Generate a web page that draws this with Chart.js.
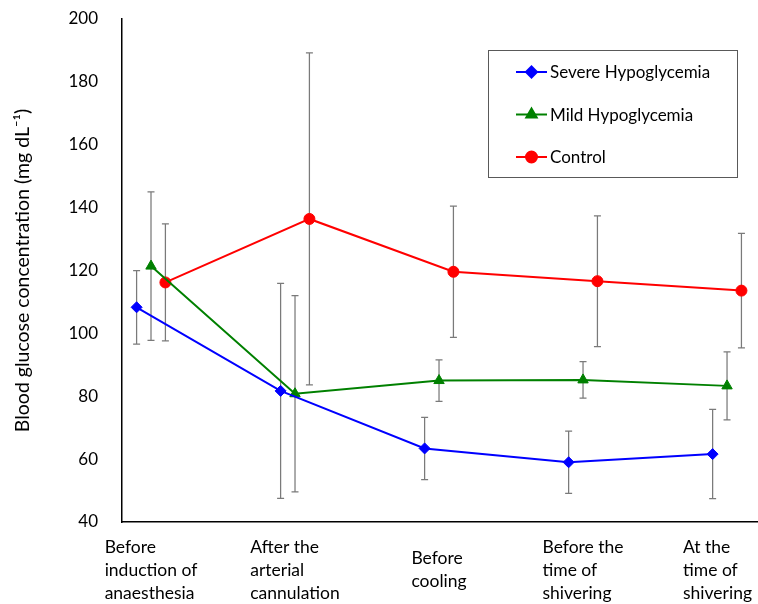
<!DOCTYPE html>
<html>
<head>
<meta charset="utf-8">
<script src="https://cdn.jsdelivr.net/npm/chart.js@4.4.1/dist/chart.umd.min.js"></script>
<style>
  html, body { margin: 0; padding: 0; background: #fff; }
  #wrap { width: 758px; height: 604px; }
</style>
</head>
<body>
<div id="wrap"><canvas id="chart" width="758" height="604"></canvas></div>
<script>
// categories (multi-line x labels)
const categories = [
  ['Before', 'induction of', 'anaesthesia'],
  ['After the', 'arterial', 'cannulation'],
  ['Before', 'cooling'],
  ['Before the', 'time of', 'shivering'],
  ['At the', 'time of', 'shivering']
];

// means and SDs (mg/dL)
const severeMean  = [108.3, 81.7, 63.4, 59.0, 61.6];
const severeSD    = [11.7, 34.2, 9.9, 9.9, 14.2];
const mildMean    = [121.4, 80.8, 85.0, 85.2, 83.3];
const mildSD      = [23.6, 31.2, 6.6, 5.8, 10.8];
const controlMean = [116.2, 136.4, 119.6, 116.6, 113.6];
const controlSD   = [18.6, 52.8, 20.9, 20.8, 18.2];

const yMin = 40, yMax = 200, yStep = 20;

const FONT = 'Lato, "Open Sans", sans-serif';

function series(label, means, sds, color, style, radius, shift) {
  return {
    label: label,
    data: means.map((m, i) => ({ x: i + shift, y: m, sd: sds[i] })),
    borderColor: color,
    backgroundColor: color,
    borderWidth: 2,
    pointStyle: style,
    pointRadius: radius,
    pointHoverRadius: radius,
    pointBorderWidth: 1,
    tension: 0
  };
}

// vertical error bars with caps
const errorBars = {
  id: 'errorBars',
  beforeDatasetsDraw(chart) {
    const ctx = chart.ctx, y = chart.scales.y;
    ctx.save();
    ctx.strokeStyle = '#7a7a7a';
    ctx.lineWidth = 1.25;
    chart.data.datasets.forEach((ds, di) => {
      const meta = chart.getDatasetMeta(di);
      ds.data.forEach((d, j) => {
        const px = meta.data[j].x;
        const top = y.getPixelForValue(d.y + d.sd);
        const bot = y.getPixelForValue(d.y - d.sd);
        ctx.beginPath();
        ctx.moveTo(px, top); ctx.lineTo(px, bot);
        ctx.moveTo(px - 3.5, top); ctx.lineTo(px + 3.5, top);
        ctx.moveTo(px - 3.5, bot); ctx.lineTo(px + 3.5, bot);
        ctx.stroke();
      });
    });
    ctx.restore();
  }
};

// left-aligned multi-line category labels, as in the original
const catLabels = {
  id: 'catLabels',
  afterDraw(chart) {
    const ctx = chart.ctx, x = chart.scales.x, area = chart.chartArea;
    ctx.save();
    ctx.font = '17.5px ' + FONT;
    ctx.fillStyle = '#000';
    ctx.textAlign = 'left';
    ctx.textBaseline = 'middle';
    const lh = 23, midY = area.bottom + 48;
    categories.forEach((lines, i) => {
      const w = Math.max(...lines.map(l => ctx.measureText(l).width));
      let left = x.getPixelForValue(i) - w / 2;
      left = Math.min(left, chart.width - 6 - w);
      const y0 = midY - (lines.length - 1) * lh / 2;
      lines.forEach((l, k) => ctx.fillText(l, left, y0 + k * lh));
    });
    ctx.restore();
  }
};

// boxed legend inside the plot
const boxLegend = {
  id: 'boxLegend',
  afterDraw(chart) {
    const ctx = chart.ctx;
    const bx = 488, by = 50, bw = 249, bh = 127;
    ctx.save();
    ctx.strokeStyle = '#595959';
    ctx.lineWidth = 1;
    ctx.strokeRect(bx + 0.5, by + 0.5, bw, bh);
    ctx.font = '17px ' + FONT;
    ctx.textBaseline = 'middle';
    ctx.textAlign = 'left';
    chart.data.datasets.forEach((ds, i) => {
      const cy = by + 22 + i * 42.5;
      ctx.strokeStyle = ds.borderColor;
      ctx.fillStyle = ds.backgroundColor;
      ctx.lineWidth = 2;
      ctx.beginPath();
      ctx.moveTo(bx + 28, cy); ctx.lineTo(bx + 59, cy);
      ctx.stroke();
      Chart.helpers.drawPoint(ctx, {
        pointStyle: ds.pointStyle, radius: ds.pointRadius, rotation: 0, borderWidth: 1
      }, bx + 43.5, cy);
      ctx.fillStyle = '#000';
      ctx.fillText(ds.label, bx + 62, cy + 1);
    });
    ctx.restore();
  }
};

new Chart(document.getElementById('chart').getContext('2d'), {
  type: 'line',
  data: {
    datasets: [
      series('Severe Hypoglycemia', severeMean, severeSD, '#0000ff', 'rectRot', 5.5, -0.1),
      series('Mild Hypoglycemia', mildMean, mildSD, '#008000', 'triangle', 6, 0),
      series('Control', controlMean, controlSD, '#ff0000', 'circle', 5.5, 0.1)
    ]
  },
  options: {
    responsive: false,
    animation: false,
    layout: { autoPadding: false, padding: { top: 19, right: 0, left: 0, bottom: 0 } },
    plugins: { legend: { display: false }, tooltip: { enabled: false } },
    scales: {
      x: {
        type: 'linear',
        min: -0.2014,
        max: 4.215,
        grid: { display: false, drawTicks: false },
        border: { display: true, color: '#000', width: 1.5 },
        ticks: { display: false },
        afterFit(scale) { scale.height = 82; }
      },
      y: {
        min: yMin,
        max: yMax,
        grid: { display: false, drawTicks: false },
        border: { display: true, color: '#000', width: 1.5 },
        ticks: {
          stepSize: yStep,
          padding: 24,
          color: '#000',
          font: { family: FONT, size: 17 }
        },
        title: {
          display: true,
          text: 'Blood glucose concentration (mg dL⁻¹)',
          color: '#000',
          font: { family: FONT, size: 19.5 },
          padding: { top: 11, bottom: 0 }
        },
        afterFit(scale) {
          scale.width = 122;
          scale.paddingTop = 0;
          scale.paddingBottom = 0;
        }
      }
    }
  },
  plugins: [errorBars, catLabels, boxLegend]
});
</script>
</body>
</html>
